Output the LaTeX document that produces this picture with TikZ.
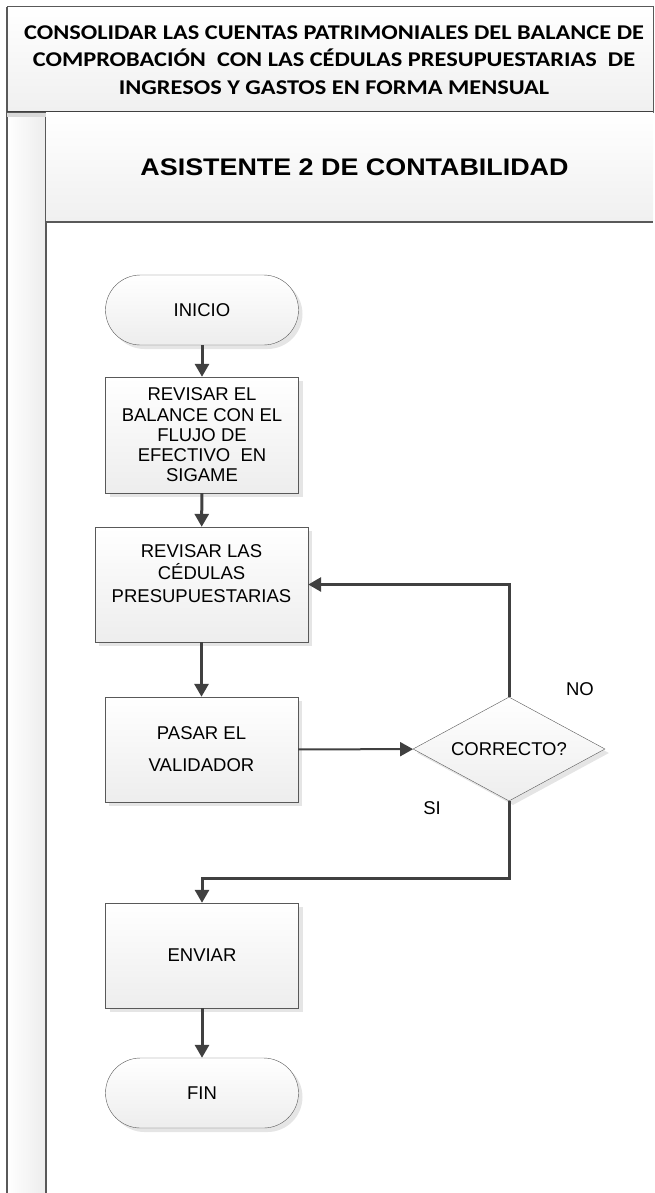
\documentclass[tikz,border=0pt]{standalone}
\usepackage{fontspec}
\setmainfont{Liberation Sans}
\newfontfamily\titlefont[FakeStretch=1.16]{Carlito}
\newfontfamily\lanefont[FakeStretch=1.12]{Liberation Sans}
\usetikzlibrary{arrows.meta,shapes.geometric,shadows,positioning}

\definecolor{linegray}{HTML}{404040}
\definecolor{framegray}{HTML}{595959}

\tikzset{
	boxfill/.style={top color=white, bottom color=gray!14},
	shade3/.style={drop shadow={shadow xshift=4pt, shadow yshift=-4pt, fill=gray!45, opacity=.45}},
	proc/.style={draw=framegray, boxfill, shade3, align=center, inner sep=0pt,
		minimum width=193pt, font=\fontsize{18.5}{20.3}\selectfont},
	term/.style={proc, rounded corners=35pt, minimum height=70pt},
	decision/.style={draw=framegray, boxfill, shade3, diamond, aspect=1.85, inner sep=0pt,
		minimum width=192pt, minimum height=104pt, font=\fontsize{18.5}{20}\selectfont},
	flow/.style={draw=linegray, line width=3pt, -{Triangle[length=13pt,width=14pt]}},
	lbl/.style={font=\fontsize{18.5}{20}\selectfont}
}

\begin{document}
\begin{tikzpicture}[x=1pt, y=-1pt]
	\useasboundingbox (0,0) rectangle (654,1193);

	% swimlane frame
	\shade[left color=white, right color=gray!14] (7,113) rectangle (45,1200);
	\draw[framegray, line width=2pt] (7,7) -- (7,1200);
	\draw[framegray, line width=2.5pt] (46,113) -- (46,1200);
	\draw[gray!70!black, top color=white, bottom color=gray!12] (7,6) rectangle (653,112);
	\fill[gray!30] (7,113) rectangle (653,117);
	\draw[gray!50!black, line width=1pt] (7,112) -- (653,112);
	\fill[top color=white, bottom color=gray!12] (46,113) rectangle (653,222);
	\draw[framegray, line width=2pt] (46,222) -- (653,222);
	\node (titulo) at (334,60) [align=center, font=\titlefont\bfseries\fontsize{21}{27.5}\selectfont] {
		CONSOLIDAR LAS CUENTAS PATRIMONIALES DEL BALANCE DE\\
		COMPROBACIÓN\ \ CON LAS CÉDULAS PRESUPUESTARIAS\ \ DE\\
		INGRESOS Y GASTOS EN FORMA MENSUAL
	};
	\node (carril) at (354.5,167) [font=\lanefont\bfseries\fontsize{24}{26}\selectfont] {ASISTENTE 2 DE CONTABILIDAD};

	% flow nodes
	\node[term] (inicio) at (202,310) {INICIO};
	\node[proc, minimum height=116pt] (balance) at (202,435) {
		REVISAR EL\\ BALANCE CON EL\\ FLUJO DE\\ EFECTIVO\ \ EN\\ SIGAME
	};
	% text sits a little above the middle of this box
	\node[proc, minimum width=213pt, minimum height=115pt, font=\fontsize{18.5}{22.5}\selectfont] (cedulas) at (201.5,584.5) {
		REVISAR LAS\\ CÉDULAS\\ PRESUPUESTARIAS\\ \mbox{}
	};
	\node[proc, minimum height=105pt, font=\fontsize{18.5}{32}\selectfont] (validador) at (201.5,749.5) {
		PASAR EL\\ VALIDADOR
	};
	\node[decision] (correcto) at (509,749) {CORRECTO?};
	\node[proc, minimum height=105pt] (enviar) at (202,955.5) {ENVIAR};
	\node[term] (fin) at (202,1093) {FIN};

	\node[lbl] (no) at (580,689) {NO};
	\node[lbl] (si) at (432,808) {SI};

	\coordinate (salida) at (509,878);

	% connectors
	\draw[flow] (inicio) -- (balance);
	\draw[flow] (balance) -- (cedulas);
	\draw[flow] (cedulas) -- (validador);
	\draw[flow, line width=2pt] (validador) -- (correcto);
	\draw[flow] (correcto.north) |- (cedulas.east);
	\draw[flow] (correcto.south) -- (salida) -| (enviar.north);
	\draw[flow] (enviar) -- (fin);
\end{tikzpicture}
\end{document}
